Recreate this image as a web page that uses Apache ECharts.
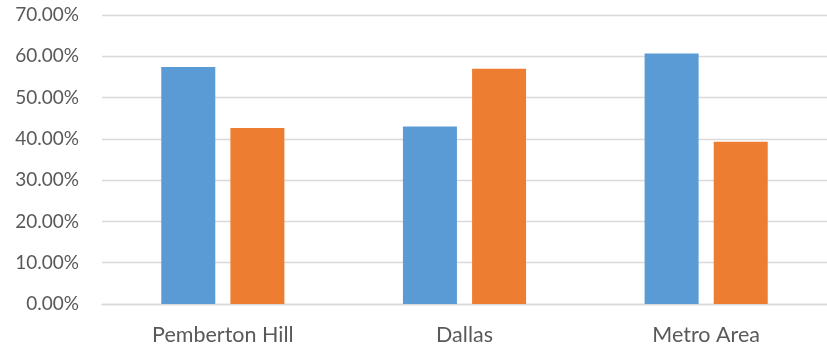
<!DOCTYPE html>
<html>
<head>
<meta charset="utf-8">
<script src="https://cdn.jsdelivr.net/npm/echarts@6/dist/echarts.min.js"></script>
<style>
html,body{margin:0;padding:0;background:#fff;}
#chart{width:827px;height:354px;}
</style>
</head>
<body>
<div id="chart"></div>
<script>
const categories = ['Pemberton Hill', 'Dallas', 'Metro Area'];
const series1 = [0.574, 0.430, 0.607];
const series2 = [0.426, 0.570, 0.393];
const yTicks = [0, 0.1, 0.2, 0.3, 0.4, 0.5, 0.6, 0.7];

const chart = echarts.init(document.getElementById('chart'), null, {renderer: 'canvas'});
chart.setOption({
  animation: false,
  backgroundColor: '#ffffff',
  textStyle: {fontFamily: 'Lato'},
  grid: {left: 102, top: 15, width: 730, height: 289},
  xAxis: {
    type: 'category',
    data: categories,
    axisLine: {show: true, lineStyle: {color: '#d9d9d9', width: 1.3}},
    axisTick: {show: false},
    axisLabel: {color: '#595959', fontSize: 21.5, fontFamily: 'Lato', margin: 20}
  },
  yAxis: {
    type: 'value',
    min: yTicks[0],
    max: yTicks[yTicks.length - 1],
    interval: 0.1,
    axisLine: {show: false},
    axisTick: {show: false},
    splitLine: {lineStyle: {color: '#d9d9d9', width: 1.3}},
    axisLabel: {
      color: '#595959', fontSize: 19, fontFamily: 'Lato', margin: 23,
      formatter: v => (v * 100).toFixed(2) + '%'
    }
  },
  series: [
    {type: 'bar', data: series1, barWidth: 54, barGap: '28%', itemStyle: {color: '#5B9BD5'}},
    {type: 'bar', data: series2, barWidth: 54, barGap: '28%', itemStyle: {color: '#ED7D31'}}
  ]
});
</script>
</body>
</html>
